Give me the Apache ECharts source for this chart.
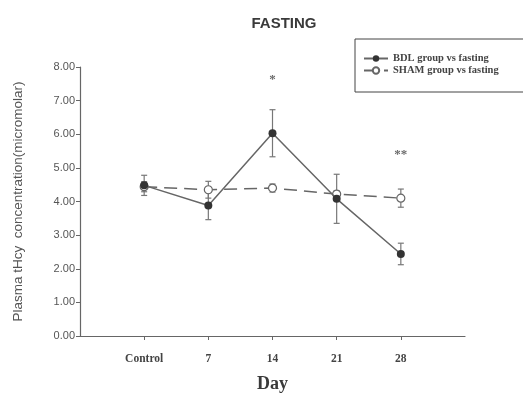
<!DOCTYPE html>
<html>
<head>
<meta charset="utf-8">
<script src="https://cdn.jsdelivr.net/npm/echarts@6/dist/echarts.min.js"></script>
<style>
  html, body { margin: 0; padding: 0; background: #fff; }
  #chart { width: 523px; height: 394px; }
</style>
</head>
<body>
<div id="chart"></div>
<script>
// 横轴分类（两端留空，仅用于留白）
let categories = ['', 'Control', '7', '14', '21', '28', '']
let days = ['Control', '7', '14', '21', '28']

// BDL 组 均值 / 标准误
let bdlMean = [4.48, 3.88, 6.03, 4.08, 2.44]
let bdlErr = [0.3, 0.42, 0.7, 0.73, 0.32]

// SHAM 组 均值 / 标准误
let shamMean = [4.44, 4.35, 4.40, 4.22, 4.10]
let shamErr = [0.15, 0.25, 0.12, 0.1, 0.27]

// 显著性标记
let starDays = ['14', '28']
let starLevels = [7.62, 5.38]
let starTexts = ['*', '**']

let yTicks = { min: 0, max: 8, interval: 1 }

function barData (means, errs) {
  return days.map(function (d, i) {
    return [categories.indexOf(d), means[i] - errs[i], means[i] + errs[i]]
  })
}

function renderErrorBar (params, api) {
  let idx = api.value(0)
  let top = api.coord([idx, api.value(2)])
  let bottom = api.coord([idx, api.value(1)])
  let half = 3
  let style = { stroke: '#777', lineWidth: 1.2 }
  return {
    type: 'group',
    children: [
      { type: 'line', shape: { x1: top[0], y1: top[1], x2: bottom[0], y2: bottom[1] }, style: style },
      { type: 'line', shape: { x1: top[0] - half, y1: top[1], x2: top[0] + half, y2: top[1] }, style: style },
      { type: 'line', shape: { x1: bottom[0] - half, y1: bottom[1], x2: bottom[0] + half, y2: bottom[1] }, style: style }
    ]
  }
}

let chart = echarts.init(document.getElementById('chart'))
let option = {
  backgroundColor: '#fff',
  animation: false,
  title: {
    text: 'FASTING',
    left: 279,
    textAlign: 'center',
    top: 11,
    textStyle: { fontFamily: 'Liberation Sans, Arial', fontSize: 15, fontWeight: 'bold', color: '#3a3a3a' }
  },
  legend: {
    data: ['BDL group vs fasting', 'SHAM group vs fasting'],
    orient: 'vertical',
    left: 355,
    top: 39,
    padding: [14, 30, 16, 8],
    itemGap: 1,
    itemWidth: 24,
    itemHeight: 8,
    borderColor: '#444',
    borderWidth: 1,
    borderRadius: 0,
    textStyle: { fontFamily: 'Liberation Serif, Times New Roman', fontSize: 10.5, fontWeight: 'bold', color: '#444' }
  },
  grid: { left: 80, right: 58, top: 67, bottom: 58, outerBoundsMode: 'none', containLabel: false },
  xAxis: {
    type: 'category',
    data: categories,
    boundaryGap: false,
    name: 'Day',
    nameLocation: 'middle',
    nameGap: 39,
    nameTextStyle: { fontFamily: 'Liberation Serif, Times New Roman', fontSize: 18, fontWeight: 'bold', color: '#3a3a3a' },
    axisLine: { lineStyle: { color: '#666', width: 1.2 } },
    axisTick: {
      length: 4,
      lineStyle: { color: '#666' },
      interval: function (index, value) { return value !== '' }
    },
    axisLabel: {
      interval: 0,
      margin: 17,
      fontFamily: 'Liberation Serif, Times New Roman',
      fontSize: 11.5,
      fontWeight: 'bold',
      color: '#444'
    },
    splitLine: { show: false }
  },
  yAxis: {
    type: 'value',
    min: yTicks.min,
    max: yTicks.max,
    interval: yTicks.interval,
    name: 'Plasma tHcy  concentration(micromolar)',
    nameLocation: 'middle',
    nameGap: 55,
    nameTextStyle: { fontFamily: 'Liberation Sans, Arial', fontSize: 13.5, color: '#555' },
    axisLine: { show: true, lineStyle: { color: '#666', width: 1.2 } },
    axisTick: { show: true, length: 4, lineStyle: { color: '#666' } },
    axisLabel: {
      margin: 5,
      fontFamily: 'Liberation Sans, Arial',
      fontSize: 11,
      color: '#555',
      formatter: function (v) { return v.toFixed(2) }
    },
    splitLine: { show: false }
  },
  series: [
    {
      name: 'BDL err',
      type: 'custom',
      renderItem: renderErrorBar,
      data: barData(bdlMean, bdlErr),
      z: 1
    },
    {
      name: 'SHAM err',
      type: 'custom',
      renderItem: renderErrorBar,
      data: barData(shamMean, shamErr),
      z: 1
    },
    {
      name: 'BDL group vs fasting',
      type: 'line',
      data: days.map(function (d, i) { return [d, bdlMean[i]] }),
      symbol: 'circle',
      symbolSize: 8,
      itemStyle: { color: '#333' },
      lineStyle: { color: '#666', width: 1.5 },
      z: 3
    },
    {
      name: 'SHAM group vs fasting',
      type: 'line',
      data: days.map(function (d, i) { return [d, shamMean[i]] }),
      symbol: 'circle',
      symbolSize: 8,
      itemStyle: { color: '#fff', borderColor: '#666', borderWidth: 1.2 },
      lineStyle: { color: '#666', width: 1.5, type: [13, 7] },
      z: 2
    },
    {
      name: 'stars',
      type: 'scatter',
      symbolSize: 0,
      data: starDays.map(function (d, i) { return [d, starLevels[i], starTexts[i]] }),
      label: {
        show: true,
        position: 'inside',
        formatter: function (p) { return p.data[2] },
        fontFamily: 'Liberation Serif, Times New Roman',
        fontSize: 13,
        fontWeight: 'bold',
        color: '#444'
      },
      z: 4
    }
  ]
}
chart.setOption(option)
</script>
</body>
</html>
